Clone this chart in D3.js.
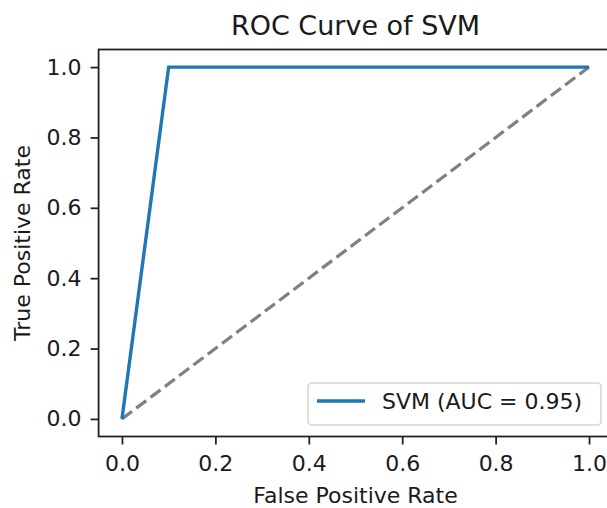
<!DOCTYPE html>
<html>
<head>
<meta charset="utf-8">
<script src="https://cdn.jsdelivr.net/npm/d3@7"></script>
<style>
  body { margin: 0; background: #fff; }
  text { font-family: "DejaVu Sans", sans-serif; fill: #1a1a1a; }
</style>
</head>
<body>
<div id="chart"></div>
<script>
// ROC points of the classifier
let fpr = [0, 0.1, 1.0];
let tpr = [0, 1.0, 1.0];
// chance diagonal
let chanceFpr = [0, 1];
let chanceTpr = [0, 1];
let xTicks = [0, 0.2, 0.4, 0.6, 0.8, 1.0];
let yTicks = [0, 0.2, 0.4, 0.6, 0.8, 1.0];
let seriesName = "SVM (AUC = 0.95)";
let chartTitle = "ROC Curve of SVM";
let xLabel = "False Positive Rate";
let yLabel = "True Positive Rate";

drawRoc();

function drawRoc() {
    let width = 607, height = 508;
    // axes box (right edge falls just past the picture, as in the original)
    let box = {left: 98.6, right: 612.4, top: 49.5, bottom: 436.5};

    let svg = d3.select("#chart")
        .append("svg")
            .attr("width", width)
            .attr("height", height);

    let x = d3.scaleLinear()
        .domain([-0.05, 1.05])
        .range([box.left, box.right]);
    let y = d3.scaleLinear()
        .domain([-0.05, 1.05])
        .range([box.bottom, box.top]);

    let line = d3.line()
        .x(d => x(d[0]))
        .y(d => y(d[1]));

    // dashed chance line
    svg.append("path")
        .datum(d3.zip(chanceFpr, chanceTpr))
        .attr("d", line)
        .attr("fill", "none")
        .attr("stroke", "#808080")
        .attr("stroke-width", 3.2)
        .attr("stroke-dasharray", "12.5,5.4");

    // ROC curve
    svg.append("path")
        .datum(d3.zip(fpr, tpr))
        .attr("d", line)
        .attr("fill", "none")
        .attr("stroke", "#1f77b4")
        .attr("stroke-width", 3.4)
        .attr("stroke-linejoin", "miter");

    // axes
    let xAxis = svg.append("g")
        .attr("transform", "translate(0," + box.bottom + ")")
        .call(d3.axisBottom(x).tickValues(xTicks).tickFormat(d3.format(".1f"))
            .tickSize(8).tickPadding(11).tickSizeOuter(0));
    let yAxis = svg.append("g")
        .attr("transform", "translate(" + box.left + ",0)")
        .call(d3.axisLeft(y).tickValues(yTicks).tickFormat(d3.format(".1f"))
            .tickSize(8).tickPadding(9).tickSizeOuter(0));

    [xAxis, yAxis].forEach(function(a) {
        a.select(".domain").remove();
        a.selectAll("line").attr("stroke", "#222").attr("stroke-width", 1.8);
        a.selectAll("text")
            .attr("fill", "#1a1a1a")
            .style("font-size", "22px")
            .style("font-family", "DejaVu Sans, sans-serif");
    });

    // spines
    svg.append("rect")
        .attr("x", box.left)
        .attr("y", box.top)
        .attr("width", box.right - box.left)
        .attr("height", box.bottom - box.top)
        .attr("fill", "none")
        .attr("stroke", "#222")
        .attr("stroke-width", 1.8);

    // legend, lower right
    let lg = svg.append("g");
    lg.append("rect")
        .attr("x", 308)
        .attr("y", 383)
        .attr("width", 293)
        .attr("height", 42)
        .attr("rx", 4)
        .attr("fill", "#fff")
        .attr("fill-opacity", 0.8)
        .attr("stroke", "#d6d6d6")
        .attr("stroke-width", 1.6);
    lg.append("line")
        .attr("x1", 317).attr("x2", 365)
        .attr("y1", 401).attr("y2", 401)
        .attr("stroke", "#1f77b4")
        .attr("stroke-width", 3.4);
    lg.append("text")
        .attr("x", 382)
        .attr("y", 409)
        .style("font-size", "22px")
        .text(seriesName);

    // title and axis labels
    let cx = (box.left + box.right) / 2;
    svg.append("text")
        .attr("x", cx)
        .attr("y", 35)
        .attr("text-anchor", "middle")
        .style("font-size", "27px")
        .text(chartTitle);
    svg.append("text")
        .attr("x", cx)
        .attr("y", 503)
        .attr("text-anchor", "middle")
        .style("font-size", "22px")
        .text(xLabel);
    svg.append("text")
        .attr("transform", "translate(30," + (box.top + box.bottom) / 2 + ") rotate(-90)")
        .attr("text-anchor", "middle")
        .style("font-size", "22px")
        .text(yLabel);
}
</script>
</body>
</html>
